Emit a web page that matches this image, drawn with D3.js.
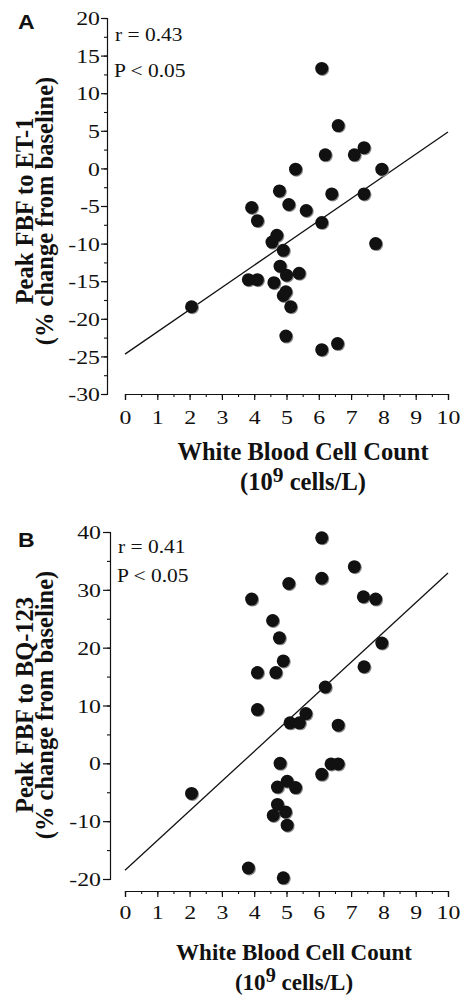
<!DOCTYPE html>
<html>
<head>
<meta charset="utf-8">
<script src="https://cdn.jsdelivr.net/npm/d3@7"></script>
<style>
  html, body { margin: 0; padding: 0; background: #fff; }
  svg { display: block; }
  text { fill: #111; }
</style>
</head>
<body>
<svg id="chart" width="470" height="1003"></svg>
<script>
// ---------- DATA ----------
// Panel A: WBC count vs Peak FBF to ET-1
const aWbc = [6.09, 6.60, 6.20, 7.10, 7.40, 5.28, 7.95, 4.78, 6.40, 7.40, 3.92, 5.07, 5.61, 4.10, 6.09, 7.76,
              4.70, 4.55, 4.90, 4.80, 5.00, 5.39, 3.82, 4.10, 4.61, 4.98, 4.90, 5.13, 2.06, 4.98, 6.09, 6.58];
const aFbf = [13.3, 5.7, 1.8, 1.8, 2.75, -0.1, -0.1, -3.0, -3.4, -3.4, -5.2, -4.8, -5.6, -6.95, -7.2, -10.0,
              -8.9, -9.8, -10.9, -13.0, -14.2, -13.95, -14.8, -14.8, -15.2, -16.4, -16.9, -18.4, -18.4, -22.3, -24.1, -23.3];
// Panel B: WBC count vs Peak FBF to BQ-123
const bWbc = [6.09, 7.10, 6.09, 5.07, 3.92, 7.38, 7.76, 4.57, 4.78, 7.95, 4.90, 7.40, 4.10, 4.67, 6.20, 4.10, 5.60,
              5.11, 5.40, 6.60, 4.80, 6.38, 6.60, 6.09, 2.06, 4.72, 5.02, 5.28, 4.72, 4.59, 4.97, 5.02, 3.82, 4.90];
const bFbf = [39.0, 34.0, 32.0, 31.1, 28.4, 28.8, 28.4, 24.7, 21.7, 20.8, 17.7, 16.7, 15.7, 15.7, 13.2, 9.3, 8.6,
              7.0, 7.0, 6.6, 0.0, -0.1, -0.1, -1.9, -5.2, -4.1, -3.1, -4.2, -7.1, -9.0, -8.4, -10.7, -18.1, -19.8];
// Regression lines: value at x = 0 and x = 10
const aFitEnds = [-24.7, 4.85];
const bFitEnds = [-18.5, 32.9];
const fitX = [0, 10];

const xTicks = [0, 1, 2, 3, 4, 5, 6, 7, 8, 9, 10];
const aYTicks = [-30, -25, -20, -15, -10, -5, 0, 5, 10, 15, 20];
const bYTicks = [-20, -10, 0, 10, 20, 30, 40];
const aStats = ["r = 0.43", "P < 0.05"];
const bStats = ["r = 0.41", "P < 0.05"];

// ---------- DRAW ----------
const svg = d3.select("#chart");
const SERIF = "'Liberation Serif', 'Times New Roman', serif";
const SANS = "'Liberation Sans', Arial, sans-serif";
const SX = 1.16;      // horizontal stretch of stats text
const TSX = 1.22;     // horizontal stretch of tick labels

function stext(g, x, y, str, size, anchor, weight, sx) {
  return g.append("text")
    .attr("transform", `translate(${x},${y}) scale(${sx || 1},1)`)
    .attr("text-anchor", anchor || "start")
    .attr("font-family", SERIF)
    .attr("font-weight", weight || "normal")
    .attr("font-size", size)
    .text(str);
}

function panel(cfg) {
  const g = svg.append("g");
  const x = d3.scaleLinear().domain([0, 10]).range([125, 448]);
  const y = d3.scaleLinear().domain(cfg.yDomain).range(cfg.yRange);

  // y axis
  const yMinor = d3.range(cfg.yDomain[0], cfg.yDomain[1] + 0.001, cfg.yMinorStep);
  g.append("g").attr("transform", `translate(${cfg.yAxisX},0)`)
    .call(d3.axisLeft(y).tickValues(yMinor).tickSize(3).tickFormat(""))
    .call(s => s.select(".domain").remove())
    .selectAll("line").attr("stroke", "#111").attr("stroke-width", 1.1);
  const ya = g.append("g").attr("transform", `translate(${cfg.yAxisX},0)`)
    .call(d3.axisLeft(y).tickValues(cfg.yTicks).tickSizeOuter(0).tickSize(cfg.yTickLen).tickFormat(d => String(d)));
  ya.select(".domain").attr("stroke", "#111").attr("stroke-width", 1.2);
  ya.selectAll("line").attr("stroke", "#111").attr("stroke-width", 1.2);
  ya.selectAll("text")
    .attr("font-family", SERIF).attr("font-size", 19.5).attr("fill", "#111")
    .attr("x", null).attr("dy", "0.34em")
    .attr("transform", `translate(${-cfg.yLabelOff},0) scale(${TSX},1)`);

  // x axis
  const xMinor = d3.range(0, 10.001, 0.5);
  g.append("g").attr("transform", `translate(0,${cfg.xAxisY})`)
    .call(d3.axisBottom(x).tickValues(xMinor).tickSize(3).tickFormat(""))
    .call(s => s.select(".domain").remove())
    .selectAll("line").attr("stroke", "#111").attr("stroke-width", 1.1);
  const xa = g.append("g").attr("transform", `translate(0,${cfg.xAxisY})`)
    .call(d3.axisBottom(x).tickValues(xTicks).tickSizeOuter(0).tickSize(6).tickFormat(d => String(d)));
  xa.select(".domain").attr("stroke", "#111").attr("stroke-width", 1.2);
  xa.selectAll("line").attr("stroke", "#111").attr("stroke-width", 1.2);
  xa.selectAll("text")
    .attr("font-family", SERIF).attr("font-size", 19.5).attr("fill", "#111")
    .attr("y", null).attr("dy", null)
    .attr("transform", `translate(0,${cfg.xLabelOff}) scale(${TSX},1)`);

  // regression line
  g.append("line")
    .attr("x1", x(fitX[0])).attr("y1", y(cfg.fit[0]))
    .attr("x2", x(fitX[1])).attr("y2", y(cfg.fit[1]))
    .attr("stroke", "#111").attr("stroke-width", 1.3);

  // points
  const pts = cfg.xs.map((v, i) => [v, cfg.ys[i]]);
  g.append("g").selectAll("circle").data(pts).join("circle")
    .attr("cx", d => x(d[0]) + 0.9).attr("cy", d => y(d[1]) + 0.9).attr("r", 6.6)
    .attr("fill", "#8a8a8a");
  g.append("g").selectAll("circle").data(pts).join("circle")
    .attr("cx", d => x(d[0])).attr("cy", d => y(d[1])).attr("r", 6.5)
    .attr("fill", "#111");

  // stats text
  stext(g, cfg.statX, cfg.statY[0], cfg.stats[0], 18.5, "start", "normal", SX);
  stext(g, cfg.statX - 1, cfg.statY[1], cfg.stats[1], 18.5, "start", "normal", SX);

  // panel letter
  g.append("text")
    .attr("transform", `translate(18,${cfg.letterY}) scale(1.15,1)`)
    .attr("font-family", SANS).attr("font-weight", "bold").attr("font-size", 20)
    .text(cfg.letter);

  // y title (rotated)
  const yt = g.append("text")
    .attr("transform", `translate(0,${cfg.yTitleCY}) rotate(-90)`)
    .attr("text-anchor", "middle")
    .attr("font-family", SERIF).attr("font-weight", "bold").attr("font-size", 24.5);
  yt.append("tspan").attr("x", 0).attr("y", 33).text(cfg.yTitle1);
  yt.append("tspan").attr("x", 0).attr("y", 52.5).text("(% change from baseline)");

  // x title
  stext(g, cfg.xTitleCX, cfg.xTitleY, "White Blood Cell Count", cfg.xTitleSize, "middle", "bold", 1);
  const t2 = g.append("text")
    .attr("transform", `translate(${cfg.xTitleCX},${cfg.xTitleY + 30})`)
    .attr("text-anchor", "middle")
    .attr("font-family", SERIF).attr("font-weight", "bold").attr("font-size", cfg.xTitleSize);
  t2.append("tspan").text("(10");
  t2.append("tspan").attr("dy", -8).attr("font-size", cfg.xTitleSize * 0.88).text("9");
  t2.append("tspan").attr("dy", 8).text(" cells/L)");
}

panel({
  letter: "A", letterY: 29,
  yDomain: [-30, 20], yRange: [394, 18], yTicks: aYTicks, yMinorStep: 2.5,
  yAxisX: 107, yTickLen: 6, yLabelOff: 7,
  xAxisY: 394, xLabelOff: 29.5,
  xs: aWbc, ys: aFbf, fit: aFitEnds,
  stats: aStats, statX: 115, statY: [41, 77],
  yTitle1: "Peak FBF to ET-1", yTitleCY: 211,
  xTitleCX: 303, xTitleY: 460, xTitleSize: 24.5
});

panel({
  letter: "B", letterY: 547,
  yDomain: [-20, 40], yRange: [879, 532], yTicks: bYTicks, yMinorStep: 5,
  yAxisX: 110, yTickLen: 7, yLabelOff: 9,
  xAxisY: 891, xLabelOff: 27.5,
  xs: bWbc, ys: bFbf, fit: bFitEnds,
  stats: bStats, statX: 118, statY: [553, 582],
  yTitle1: "Peak FBF to BQ-123", yTitleCY: 705,
  xTitleCX: 294, xTitleY: 960, xTitleSize: 23
});
</script>
</body>
</html>
